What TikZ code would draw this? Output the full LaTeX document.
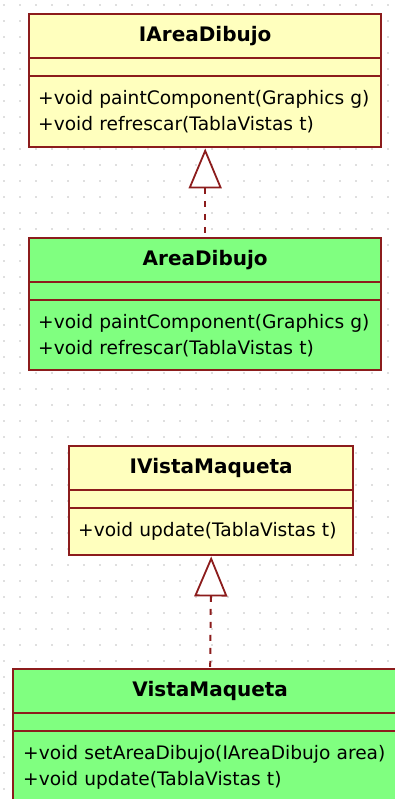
\documentclass[tikz,border=0pt]{standalone}
\usepackage{fontspec}
\setmainfont{DejaVu Sans}
\usetikzlibrary{arrows.meta}
\definecolor{umlborder}{RGB}{140,28,28}
\definecolor{ifacefill}{RGB}{255,255,190}
\definecolor{classfill}{RGB}{128,255,128}
\definecolor{griddot}{RGB}{190,190,190}
\tikzset{
  part/.style={draw=umlborder, line width=2.4pt, anchor=north west, inner sep=0pt,
    font=\fontsize{18.6}{26}\selectfont},
  namepart/.style={part, minimum height=44pt, font=\fontsize{20}{26}\selectfont\bfseries},
  attrpart/.style={part, minimum height=18pt},
  opspart/.style={part, align=left, inner xsep=9pt},
  iface/.style={fill=ifacefill},
  impl/.style={fill=classfill},
  realize/.style={draw=umlborder, line width=2pt, dash pattern=on 6pt off 7pt,
    {Triangle[open, length=40pt, width=33pt, fill=white, line width=1.8pt]}-}
}
\begin{document}
\begin{tikzpicture}[x=1pt, y=-1pt]
  \useasboundingbox (0,0) rectangle (395,799);
  \clip (0,0) rectangle (395,799);
  % dotted drawing grid
  \foreach \gx in {4,20,...,388}
    \foreach \gy in {5,21,...,797}
      \fill[griddot] (\gx,\gy) circle (0.8pt);

  % interface IAreaDibujo
  \node[namepart, iface, minimum width=352pt] (iarea-name) at (28,13) {IAreaDibujo};
  \node[attrpart, iface, minimum width=352pt] (iarea-attr) at (28,57) {};
  \node[opspart, iface, minimum height=71pt, text width=334pt] (iarea-ops) at (28,75)
    {+void paintComponent(Graphics g)\\+void refrescar(TablaVistas t)};

  % class AreaDibujo
  \node[namepart, impl, minimum width=352pt] (area-name) at (28,237) {AreaDibujo};
  \node[attrpart, impl, minimum width=352pt] (area-attr) at (28,281) {};
  \node[opspart, impl, minimum height=70pt, text width=334pt] (area-ops) at (28,299)
    {+void paintComponent(Graphics g)\\+void refrescar(TablaVistas t)};

  % interface IVistaMaqueta
  \node[namepart, iface, minimum width=284pt] (ivista-name) at (68,445) {IVistaMaqueta};
  \node[attrpart, iface, minimum width=284pt] (ivista-attr) at (68,489) {};
  \node[opspart, iface, minimum height=47pt, text width=266pt] (ivista-ops) at (68,507)
    {+void update(TablaVistas t)};

  % class VistaMaqueta
  \node[namepart, impl, minimum width=394pt] (vista-name) at (12,668) {VistaMaqueta};
  \node[attrpart, impl, minimum width=394pt] (vista-attr) at (12,712) {};
  \node[opspart, impl, minimum height=72pt, text width=374pt, inner xsep=10pt] (vista-ops) at (12,730)
    {+void setAreaDibujo(IAreaDibujo area)\\+void update(TablaVistas t)};

  % realization arrows
  \draw[realize] (iarea-ops.south) -- (area-name.north);
  \draw[realize] (ivista-ops.south) -- (vista-name.north);
\end{tikzpicture}
\end{document}
